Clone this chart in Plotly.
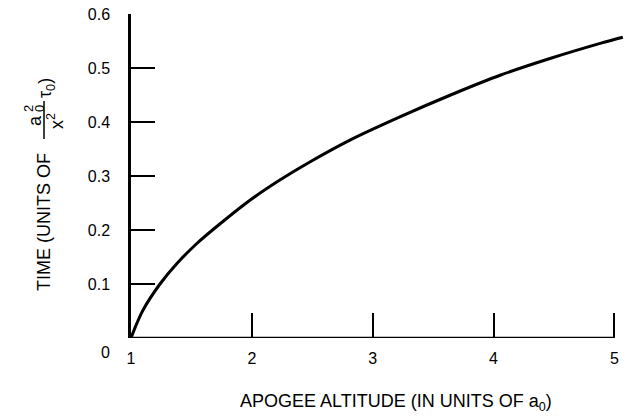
import plotly.graph_objects as go

# Data
altitude = [1.0, 1.05, 1.10, 1.24, 1.38, 1.545, 1.74, 1.99, 2.235, 2.48, 2.816,
            3.23, 3.645, 4.06, 4.474, 4.89, 5.07]
time_val = [0.0, 0.028, 0.052, 0.100, 0.138, 0.175, 0.212, 0.256, 0.293, 0.326, 0.367,
            0.41, 0.45, 0.487, 0.518, 0.546, 0.557]
x_ticks = [1, 2, 3, 4, 5]
x_tick_labels = ["1", "2", "3", "4", "5"]
y_ticks = [0.1, 0.2, 0.3, 0.4, 0.5, 0.6]
y_tick_labels = ["0.1", "0.2", "0.3", "0.4", "0.5", "0.6"]

W, H = 633, 420
L, R, T, B = 131, 9, 14, 82
PW, PH = W - L - R, H - T - B
FONT = "Liberation Sans, Arial, sans-serif"


def px(xpix):
    return (xpix - L) / PW


def py(ypix):
    return (H - B - ypix) / PH


fig = go.Figure()
fig.add_trace(go.Scatter(x=altitude, y=time_val, mode="lines",
                         line=dict(color="black", width=3, shape="spline", smoothing=0.8),
                         showlegend=False, hoverinfo="skip"))

fig.update_layout(
    width=W, height=H,
    margin=dict(l=L, r=R, t=T, b=B, pad=0, autoexpand=False),
    paper_bgcolor="white", plot_bgcolor="white",
    font=dict(family=FONT, size=16, color="black"),
    xaxis=dict(range=[1, 5.08], tickvals=x_ticks, ticktext=x_tick_labels,
               ticks="inside", ticklen=25, tickwidth=2, tickcolor="black",
               showline=False, showgrid=False, zeroline=False, automargin=False,
               ticklabelstandoff=9, tickfont=dict(size=16, family=FONT)),
    yaxis=dict(range=[0, 0.6], tickvals=y_ticks, ticktext=y_tick_labels,
               ticks="inside", ticklen=24, tickwidth=2, tickcolor="black",
               showline=True, linewidth=2.5, linecolor="black",
               showgrid=False, zeroline=False, automargin=False,
               ticklabelstandoff=15, tickfont=dict(size=16, family=FONT)),
)

# x axis baseline from 1 to 5
fig.add_shape(type="line", xref="x", yref="y", x0=x_ticks[0], x1=x_ticks[-1],
              y0=0, y1=0, line=dict(color="black", width=2.5), layer="above")


def note(text, xpix, ypix, size, angle=0, xanchor="center"):
    return dict(text=text, xref="paper", yref="paper", x=px(xpix), y=py(ypix),
                textangle=angle, showarrow=False, xanchor=xanchor, yanchor="middle",
                font=dict(size=size, family=FONT, color="black"))


ann = [
    note("0", 112, 352, 16, xanchor="right"),
    note("APOGEE ALTITUDE (IN UNITS OF a<sub>0</sub>)", 396, 402, 18),
    note("TIME (UNITS OF", 44, 222, 18, -90),
    note("a", 35, 121, 18, -90),
    note("0", 40, 109, 13, -90),
    note("2", 29, 109, 13, -90),
    note("x<sup>2</sup>", 55, 121, 18, -90),
    note("τ<sub>0</sub>)", 46, 88, 18, -90),
]
fig.update_layout(annotations=ann)

# fraction bar
fig.add_shape(type="line", xref="paper", yref="paper",
              x0=px(44), x1=px(44), y0=py(101), y1=py(139),
              line=dict(color="black", width=1.5))

fig.write_html("out.html", config={"displayModeBar": False},
               post_script="document.body.style.margin='0px';")
